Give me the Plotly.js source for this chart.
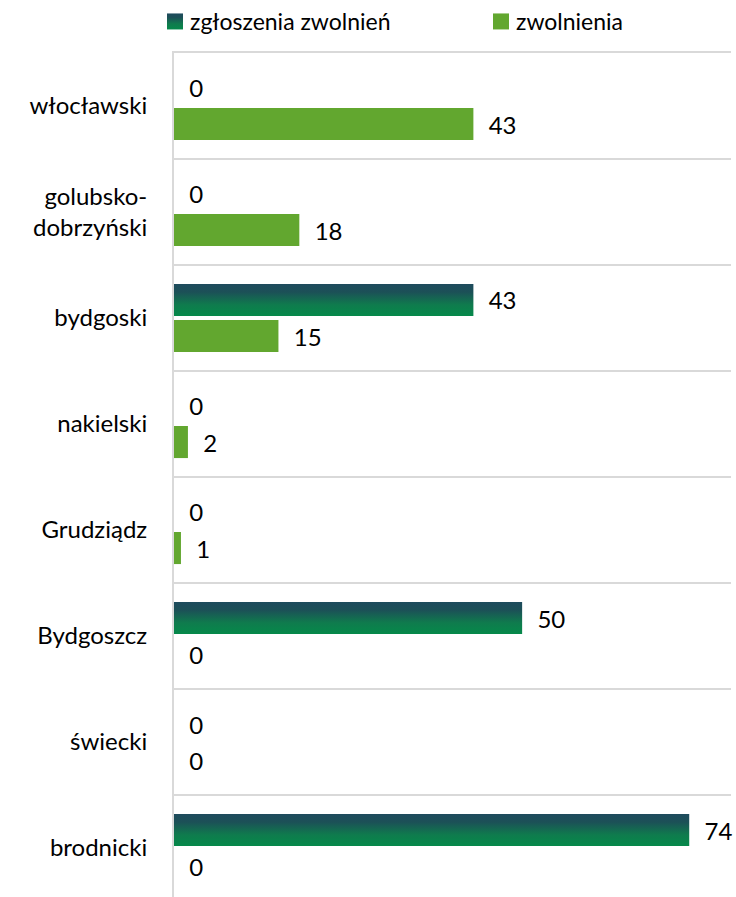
<!DOCTYPE html>
<html>
<head>
<meta charset="utf-8">
<script src="https://cdn.plot.ly/plotly-3.0.1.min.js"></script>
<style>
html,body{margin:0;padding:0;background:#fff;overflow:hidden;}
#chart{width:736px;height:897px;}
</style>
</head>
<body>
<div id="chart"></div>
<script>
var categories = ["włocławski", "golubsko-<br>dobrzyński", "bydgoski", "nakielski", "Grudziądz", "Bydgoszcz", "świecki", "brodnicki"];
var zgloszenia = [0, 0, 43, 0, 0, 50, 0, 74];
var zwolnienia = [43, 18, 15, 2, 1, 0, 0, 0];
var seriesNames = ["zgłoszenia zwolnień", "zwolnienia"];

var FONT = "Lato, 'Open Sans', sans-serif";
var pad = "\u00a0\u00a0";

var trace1 = {
  type: "bar", orientation: "h", name: seriesNames[0], legend: "legend",
  y: categories, x: zgloszenia,
  marker: {color: "#0f6b52"},
  text: zgloszenia.map(function(v){return pad + v;}),
  textposition: "outside", cliponaxis: false,
  textfont: {family: FONT, size: 24, color: "#000"},
  hoverinfo: "x"
};
var trace2 = {
  type: "bar", orientation: "h", name: seriesNames[1], legend: "legend2",
  y: categories, x: zwolnienia,
  marker: {color: "#62a72f", line: {width: 0}},
  text: zwolnienia.map(function(v){return pad + v;}),
  textposition: "outside", cliponaxis: false,
  textfont: {family: FONT, size: 24, color: "#000"},
  hoverinfo: "x"
};

var legendStyle = function(xpx){
  return {orientation: "h", xref: "container", x: xpx / 736, xanchor: "left",
          yref: "container", y: 1.0, yanchor: "top",
          font: {family: FONT, size: 23, color: "#000"}, bgcolor: "rgba(0,0,0,0)",
          borderwidth: 0, itemclick: false};
};

var layout = {
  width: 736, height: 897,
  margin: {l: 174, r: 5, t: 53, b: 0, pad: 0},
  paper_bgcolor: "#fff", plot_bgcolor: "#fff",
  font: {family: FONT, size: 24, color: "#000"},
  barmode: "group", bargap: 0.32, bargroupgap: 0.11,
  showlegend: true,
  legend: legendStyle(150),
  legend2: legendStyle(476),
  xaxis: {range: [0, 80], showgrid: false, zeroline: false, showticklabels: false,
          showline: true, mirror: true, linecolor: "#d9d9d9", linewidth: 2,
          ticks: "", fixedrange: true},
  yaxis: {type: "category", categoryorder: "array", categoryarray: categories,
          range: [7.462, -0.5], autorange: false,
          tickson: "boundaries", showgrid: true, gridcolor: "#d9d9d9", gridwidth: 2,
          showline: true, linecolor: "#d9d9d9", linewidth: 2,
          ticks: "", ticklabelstandoff: 20, zeroline: false, fixedrange: true,
          tickfont: {family: FONT, size: 24, color: "#000"}}
};

Plotly.newPlot("chart", [trace1, trace2], layout, {staticPlot: true, displayModeBar: false}).then(function(gd){
  var svg = gd.querySelector("svg.main-svg");
  var ns = "http://www.w3.org/2000/svg";
  var defs = svg.querySelector("defs") || svg.insertBefore(document.createElementNS(ns, "defs"), svg.firstChild);
  var lg = document.createElementNS(ns, "linearGradient");
  lg.setAttribute("id", "zgGrad");
  lg.setAttribute("x1", "0"); lg.setAttribute("y1", "0");
  lg.setAttribute("x2", "0"); lg.setAttribute("y2", "1");
  [["0", "#1e4b5d"], ["0.25", "#1c5057"], ["0.65", "#0f7b4d"], ["1", "#05894a"]].forEach(function(s){
    var st = document.createElementNS(ns, "stop");
    st.setAttribute("offset", s[0]); st.setAttribute("stop-color", s[1]);
    lg.appendChild(st);
  });
  defs.appendChild(lg);
  var barTraces = gd.querySelectorAll(".barlayer .trace.bars");
  if (barTraces.length) {
    barTraces[0].querySelectorAll("path").forEach(function(p){ p.style.fill = "url(#zgGrad)"; });
  }
  var legends = gd.querySelectorAll(".infolayer g[class^='legend']");
  legends.forEach(function(L, i){
    L.querySelectorAll(".legendpoints path").forEach(function(p){
      p.setAttribute("d", "M13,8H-3V-8H13Z");
      if (i === 0) p.style.fill = "url(#zgGrad)";
      p.style.strokeWidth = "0";
    });
  });
});
</script>
</body>
</html>
